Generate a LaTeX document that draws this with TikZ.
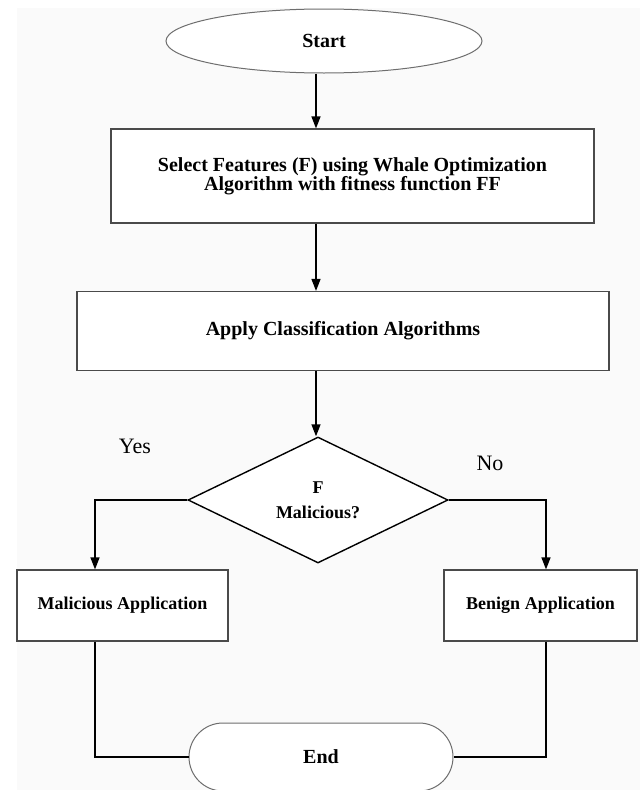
\documentclass[tikz,border=0pt]{standalone}
\usepackage{fontspec}
\setmainfont{Liberation Serif}
\usetikzlibrary{shapes.geometric,arrows.meta}
\definecolor{bgc}{HTML}{FAFAFA}
\definecolor{edge}{HTML}{4A4A4A}
\definecolor{soft}{HTML}{6E6E6E}
\tikzset{
  boxnode/.style={draw=edge, line width=1.2pt, rectangle, inner sep=0pt, align=center, fill=white, font=\fontsize{18}{19}\selectfont\bfseries},
  termnode/.style={draw=soft, line width=1pt, inner sep=0pt, fill=white, font=\fontsize{20}{22}\selectfont\bfseries},
  decnode/.style={draw=black, line width=1.4pt, diamond, inner sep=0pt, align=center, fill=white, font=\fontsize{18}{25}\selectfont\bfseries},
  arr/.style={draw=black, line width=1.5pt, -{Triangle[length=12pt,width=9pt]}},
  plainline/.style={draw=black, line width=1.4pt},
  lbl/.style={font=\fontsize{22}{24}\selectfont, inner sep=0pt}
}
\begin{document}
\begin{tikzpicture}[x=1pt,y=-1pt]
\useasboundingbox (0,0) rectangle (640,790);
\fill[bgc] (17,8) rectangle (640,790);
% coordinates for trunk and side columns
\coordinate (trunk) at (316,0);
\coordinate (lx) at (95,0);
\coordinate (rx) at (546,0);
% nodes
\node[termnode, ellipse, minimum width=316pt, minimum height=64pt] (start) at (324,41) {Start};
\node[boxnode, minimum width=483pt, minimum height=94pt, font=\fontsize{20}{19}\selectfont\bfseries] (sel) at (352.5,176)
  {Select Features (F) using Whale Optimization\\Algorithm with fitness function FF};
\node[boxnode, minimum width=532pt, minimum height=79pt, font=\fontsize{20}{22}\selectfont\bfseries] (cls) at (343,331) {Apply Classification Algorithms};
\node[decnode, minimum width=260pt, minimum height=126pt] (dec) at (318,500) {F\\Malicious?};
\node[boxnode, minimum width=211pt, minimum height=71pt] (mal) at (122.5,605.5) {Malicious Application};
\node[boxnode, minimum width=193pt, minimum height=71pt] (ben) at (540.5,605.5) {Benign Application};
\node[termnode, rectangle, rounded corners=34pt, minimum width=264pt, minimum height=68pt] (fin) at (321,757) {End};
% labels
\node[lbl] (yes) at (135,446) {Yes};
\node[lbl] (no) at (490,463) {No};
% connectors
\draw[arr] (trunk |- start.south) -- (trunk |- sel.north);
\draw[arr] (trunk |- sel.south) -- (trunk |- cls.north);
\draw[arr] (trunk |- cls.south) -- (trunk |- dec.north);
\draw[arr] (dec.west) -| (lx |- mal.north);
\draw[arr] (dec.east) -| (rx |- ben.north);
\draw[plainline] (lx |- mal.south) |- (fin.west);
\draw[plainline] (rx |- ben.south) |- (fin.east);
\end{tikzpicture}
\end{document}
